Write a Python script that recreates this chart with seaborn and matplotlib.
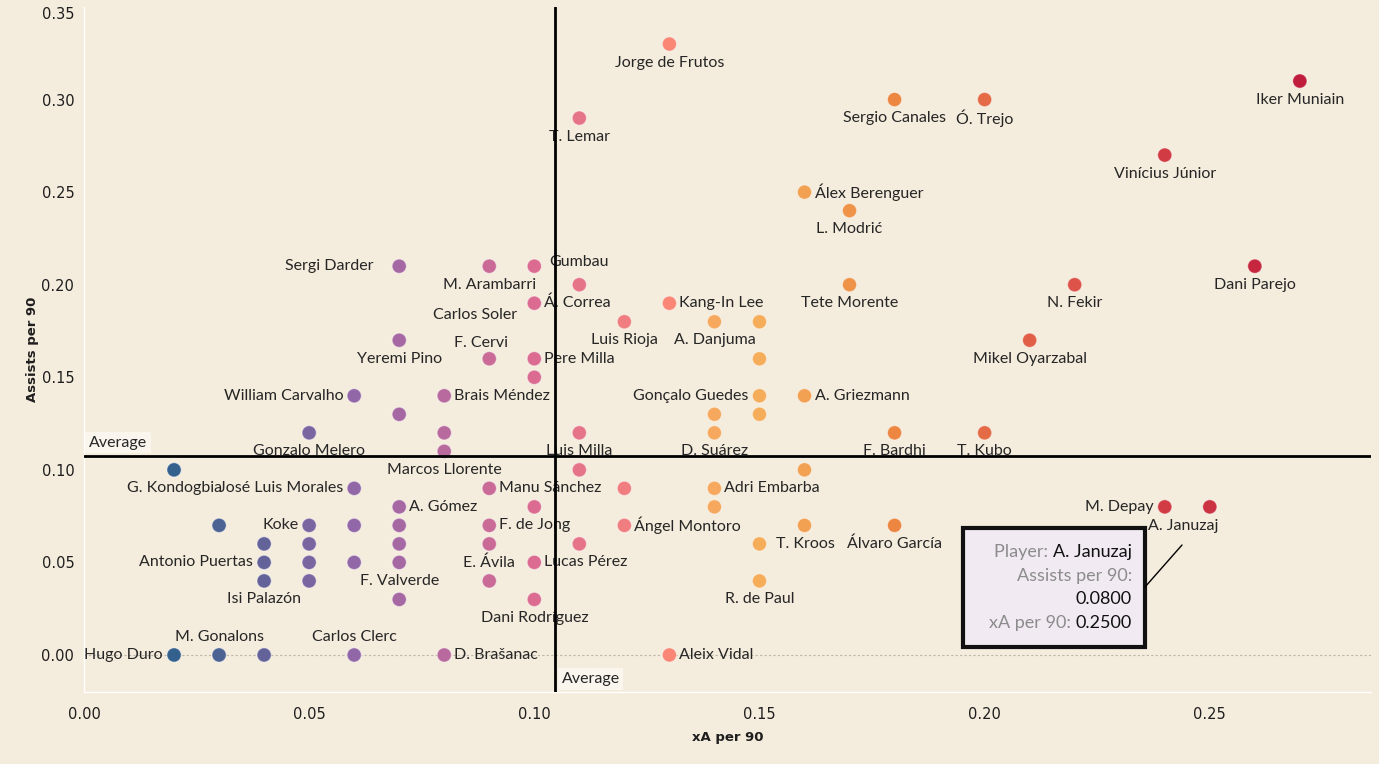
import numpy as np
import pandas as pd
import matplotlib
matplotlib.use("Agg")
import matplotlib.pyplot as plt
from matplotlib.colors import LinearSegmentedColormap
import seaborn as sns

# ---- data ----
players = [
    "Jorge de Frutos", "Iker Muniain", "Sergio Canales", "Ó. Trejo", "T. Lemar",
    "Vinícius Júnior", "Álex Berenguer", "L. Modrić",
    "Sergi Darder", "M. Arambarri", "Carlos Soler", "Dani Parejo",
    "Gumbau", "Tete Morente", "N. Fekir",
    "Á. Correa", "Kang-In Lee",
    "Luis Rioja", "A. Danjuma", "",
    "Yeremi Pino", "Mikel Oyarzabal",
    "F. Cervi", "Pere Milla", "",
    "",
    "William Carvalho", "Brais Méndez", "Gonçalo Guedes", "A. Griezmann",
    "", "", "",
    "Gonzalo Melero", "", "Luis Milla", "D. Suárez", "F. Bardhi", "T. Kubo",
    "Marcos Llorente",
    "G. Kondogbia", "", "",
    "José Luis Morales", "Manu Sánchez", "", "Adri Embarba",
    "A. Gómez", "", "", "M. Depay", "A. Januzaj",
    "", "Koke", "", "", "F. de Jong", "Ángel Montoro", "", "Álvaro García",
    "", "", "", "E. Ávila", "", "T. Kroos",
    "Antonio Puertas", "", "", "", "Lucas Pérez",
    "Isi Palazón", "", "", "R. de Paul",
    "F. Valverde", "Dani Rodríguez",
    "Hugo Duro", "M. Gonalons", "", "Carlos Clerc", "D. Brašanac", "Aleix Vidal",
]
xa_per90 = [
    0.13, 0.27, 0.18, 0.20, 0.11,
    0.24, 0.16, 0.17,
    0.07, 0.09, 0.10, 0.26,
    0.11, 0.17, 0.22,
    0.10, 0.13,
    0.12, 0.14, 0.15,
    0.07, 0.21,
    0.09, 0.10, 0.15,
    0.10,
    0.06, 0.08, 0.15, 0.16,
    0.07, 0.14, 0.15,
    0.05, 0.08, 0.11, 0.14, 0.18, 0.20,
    0.08,
    0.02, 0.11, 0.16,
    0.06, 0.09, 0.12, 0.14,
    0.07, 0.10, 0.14, 0.24, 0.25,
    0.03, 0.05, 0.06, 0.07, 0.09, 0.12, 0.16, 0.18,
    0.04, 0.05, 0.07, 0.09, 0.11, 0.15,
    0.04, 0.05, 0.06, 0.07, 0.10,
    0.04, 0.05, 0.09, 0.15,
    0.07, 0.10,
    0.02, 0.03, 0.04, 0.06, 0.08, 0.13,
]
assists_per90 = [
    0.33, 0.31, 0.30, 0.30, 0.29,
    0.27, 0.25, 0.24,
    0.21, 0.21, 0.21, 0.21,
    0.20, 0.20, 0.20,
    0.19, 0.19,
    0.18, 0.18, 0.18,
    0.17, 0.17,
    0.16, 0.16, 0.16,
    0.15,
    0.14, 0.14, 0.14, 0.14,
    0.13, 0.13, 0.13,
    0.12, 0.12, 0.12, 0.12, 0.12, 0.12,
    0.11,
    0.10, 0.10, 0.10,
    0.09, 0.09, 0.09, 0.09,
    0.08, 0.08, 0.08, 0.08, 0.08,
    0.07, 0.07, 0.07, 0.07, 0.07, 0.07, 0.07, 0.07,
    0.06, 0.06, 0.06, 0.06, 0.06, 0.06,
    0.05, 0.05, 0.05, 0.05, 0.05,
    0.04, 0.04, 0.04, 0.04,
    0.03, 0.03,
    0.00, 0.00, 0.00, 0.00, 0.00, 0.00,
]
avg_xa = 0.1047
avg_assists = 0.1076
x_ticks = [0.00, 0.05, 0.10, 0.15, 0.20, 0.25]
y_ticks = [0.00, 0.05, 0.10, 0.15, 0.20, 0.25, 0.30, 0.35]

# label placement: r=right, l=left, b=below, a=above, or custom (dx, dy, ha) in pixels
label_pos = {
    "Álex Berenguer": "r", "Sergi Darder": (-26, 0, "right"), "Carlos Soler": (-59, -49, "center"),
    "Gumbau": (0, 23, "center"), "Á. Correa": "r", "Kang-In Lee": "r", "F. Cervi": (-8, 16, "center"),
    "Pere Milla": "r", "William Carvalho": "l", "Brais Méndez": "r", "Gonçalo Guedes": "l",
    "A. Griezmann": "r", "José Luis Morales": "l", "Manu Sánchez": "r", "Adri Embarba": "r",
    "A. Gómez": "r", "M. Depay": "l", "A. Januzaj": (-27, -19, "center"), "Koke": "l",
    "F. de Jong": "r", "Ángel Montoro": "r", "T. Kroos": (17, 0, "left"), "Antonio Puertas": "l",
    "Lucas Pérez": "r", "F. Valverde": "a", "Hugo Duro": "l", "M. Gonalons": "a",
    "Carlos Clerc": "a", "D. Brašanac": "r", "Aleix Vidal": "r",
}

df = pd.DataFrame({"Player": players, "xA": xa_per90, "Assists": assists_per90})

# ---- style ----
bg = "#f4ecdc"
sns.set_style("white")
plt.rcParams["font.family"] = ["DejaVu Sans"]
label_font = "Lato"

# diverging sunset-sunrise style palette
stops = [(0.02, "#33608c"), (0.06, "#9467a8"), (0.10, "#dc6b91"), (0.13, "#fa8676"),
         (0.14, "#f6aa5d"), (0.15, "#f5ae5a"), (0.18, "#ec8640"), (0.22, "#dd5249"),
         (0.27, "#c01d3d")]
lo, hi = stops[0][0], stops[-1][0]
cmap = LinearSegmentedColormap.from_list("sunset", [((v - lo) / (hi - lo), c) for v, c in stops])

W, H = 1379, 764
fig = plt.figure(figsize=(W / 100, H / 100), dpi=100, facecolor=bg)
ax = fig.add_axes([84 / W, 72 / H, (1371 - 84) / W, (692 - 7) / H])
ax.set_facecolor(bg)

ax.axhline(0, color="#bdb6aa", lw=0.8, ls=(0, (2, 2)), zorder=0)

sns.scatterplot(data=df, x="xA", y="Assists", hue="xA", palette=cmap, hue_norm=(lo, hi),
                s=105, edgecolor=(1, 1, 1, 0.45), linewidth=0.8, legend=False, ax=ax, zorder=3)

# point labels
for name, x, y in zip(players, xa_per90, assists_per90):
    if not name:
        continue
    p = label_pos.get(name, "b")
    if p == "r":
        dx, dy, ha = 10, 0, "left"
    elif p == "l":
        dx, dy, ha = -11, 0, "right"
    elif p == "a":
        dx, dy, ha = 0, 18, "center"
    elif p == "b":
        dx, dy, ha = 0, -18.5, "center"
    else:
        dx, dy, ha = p
    ax.annotate(name, (x, y), xytext=(dx, dy), textcoords="offset pixels",
                ha=ha, va="center", fontsize=11.5, color="#262626",
                family=[label_font, "DejaVu Sans"], zorder=4)

# average lines
ax.axvline(avg_xa, color="black", lw=2, zorder=6)
ax.axhline(avg_assists, color="black", lw=2, zorder=6)
avg_box = dict(facecolor="#faf6ee", edgecolor="none", pad=2.5)
ax.annotate("Average", (0, avg_assists), xytext=(5, 6), textcoords="offset pixels",
            ha="left", va="bottom", fontsize=11.5, color="#262626", family=label_font,
            bbox=avg_box, zorder=7)
ax.annotate("Average", (avg_xa, -0.02), xytext=(6, 6), textcoords="offset pixels",
            ha="left", va="bottom", fontsize=11.5, color="#262626", family=label_font,
            bbox=avg_box, zorder=7)

# axes
ax.set_xlim(0, 0.2858)
ax.set_ylim(-0.02, 0.35)
ax.set_xticks(x_ticks)
ax.set_yticks(y_ticks)
ax.set_xticklabels([f"{v:.2f}" for v in x_ticks])
ax.set_yticklabels([f"{v:.2f}" for v in y_ticks])
ax.tick_params(axis="both", colors="white", labelcolor="#1e1e1e", labelsize=10.5, length=3, width=1)
ax.tick_params(axis="x", pad=8)
ax.tick_params(axis="y", pad=4)
ax.get_yticklabels()[-1].set_verticalalignment("top")
for side in ["top", "right"]:
    ax.spines[side].set_visible(False)
for side in ["left", "bottom"]:
    ax.spines[side].set_color("white")
    ax.spines[side].set_linewidth(1)
ax.set_xlabel("xA per 90", fontsize=9.5, fontweight="bold", color="#1e1e1e", labelpad=6)
ax.set_ylabel("Assists per 90", fontsize=9.5, fontweight="bold", color="#1e1e1e", labelpad=2)

# tooltip for A. Januzaj
x0, x1 = (963 - 84) / 1287, (1145 - 84) / 1287
y0, y1 = (692 - 647) / 685, (692 - 528) / 685
ax.add_patch(plt.Rectangle((x0, y0), x1 - x0, y1 - y0, transform=ax.transAxes,
                           facecolor="#f1eaf2", edgecolor="#111111", lw=3, zorder=8))
ax.plot([x1, (1182 - 84) / 1287], [(692 - 587) / 685, (692 - 545) / 685],
        transform=ax.transAxes, color="black", lw=1, zorder=8)
xr = (1132 - 84) / 1287
tip_rows = [("Player: ", "A. Januzaj", 552), ("Assists per 90:", "", 576),
            ("", "0.0800", 599), ("xA per 90: ", "0.2500", 623)]
fig.canvas.draw()
renderer = fig.canvas.get_renderer()
for key, val, py in tip_rows:
    yy = (692 - py) / 685
    left = xr
    if val:
        t = ax.text(xr, yy, val, transform=ax.transAxes, ha="right", va="center",
                    fontsize=13, color="#111111", family=label_font, zorder=9)
        bb = t.get_window_extent(renderer)
        left = ax.transAxes.inverted().transform((bb.x0, bb.y0))[0]
    if key:
        ax.text(left, yy, key, transform=ax.transAxes, ha="right", va="center",
                fontsize=13, color="#8c8c8c", family=label_font, zorder=9)

fig.savefig("out.png", dpi=100, facecolor=bg)
